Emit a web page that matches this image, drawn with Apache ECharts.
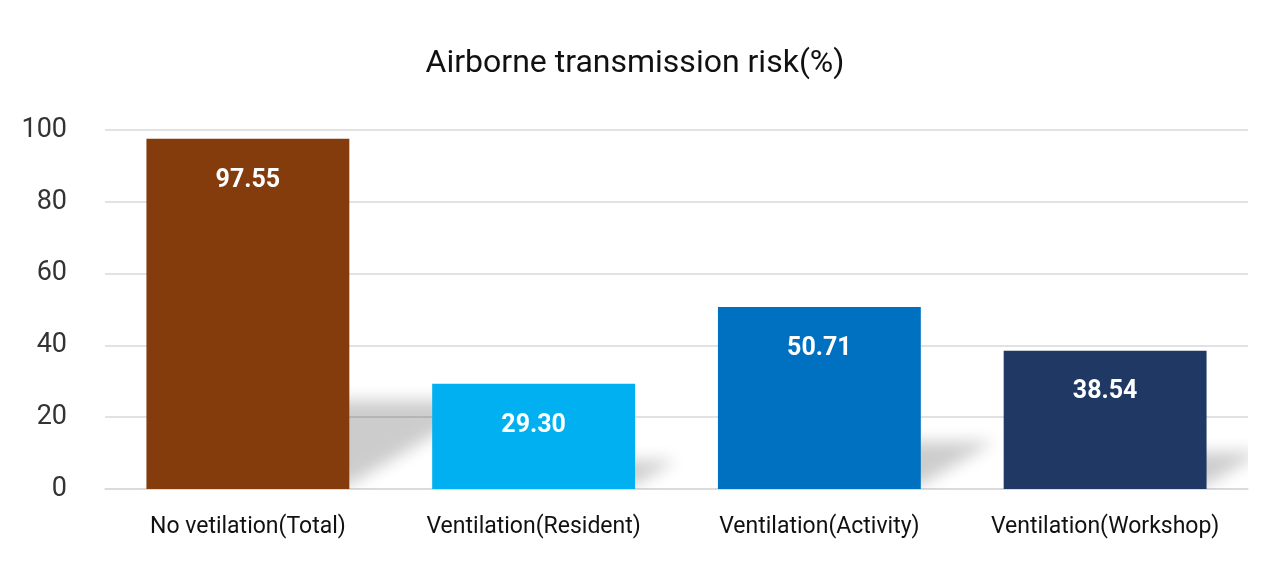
<!DOCTYPE html>
<html>
<head>
<meta charset="utf-8">
<script src="https://cdn.jsdelivr.net/npm/echarts@6/dist/echarts.min.js"></script>
<style>html,body{margin:0;padding:0;background:#fff;}#main{width:1270px;height:567px;}</style>
</head>
<body>
<div id="main"></div>
<script>
const categories = ['No vetilation(Total)', 'Ventilation(Resident)', 'Ventilation(Activity)', 'Ventilation(Workshop)'];
const riskValues = [97.55, 29.30, 50.71, 38.54];
const barColors = ['#843C0C', '#00B0F0', '#0070C0', '#1F3864'];
const yTicks = [0, 20, 40, 60, 80, 100];

const chart = echarts.init(document.getElementById('main'));
const BAR_RATIO = 0.71;
const SHIFT = 800;

chart.setOption({
  backgroundColor: '#fff',
  animation: false,
  title: {
    text: 'Airborne transmission risk(%)',
    left: 'center',
    top: 43,
    padding: [5, 0, 5, 10],
    textStyle: { fontFamily: 'Roboto', fontWeight: 'normal', fontSize: 32, color: '#111' }
  },
  grid: { left: 105, right: 22, top: 130, bottom: 78 },
  xAxis: {
    type: 'category',
    data: categories,
    axisLine: { show: true, lineStyle: { color: '#d9d9d9', width: 1.5 } },
    axisTick: { show: false },
    axisLabel: { interval: 0, fontFamily: 'Roboto', fontSize: 23, color: '#111', margin: 27 }
  },
  yAxis: {
    type: 'value',
    min: yTicks[0],
    max: yTicks[yTicks.length - 1],
    interval: 20,
    axisLine: { show: false },
    axisTick: { show: false },
    splitLine: { lineStyle: { color: '#d9d9d9', width: 1.5 } },
    axisLabel: { fontFamily: 'Roboto', fontSize: 27, color: '#333', margin: 38 }
  },
  series: [
    {
      type: 'custom',
      z: 1,
      clip: true,
      data: riskValues.map((v, i) => [i, v]),
      renderItem: function (params, api) {
        const idx = api.value(0);
        const base = api.coord([idx, 0]);
        const top = api.coord([idx, api.value(1)]);
        const bw = api.size([1, 0])[0] * BAR_RATIO;
        const x0 = base[0] - bw / 2 + 4;
        const x1 = base[0] + bw / 2 - 2;
        const H = base[1] - top[1];
        const h = H * 0.245;
        const dx = h * 1.7;
        const y0 = base[1] - 3 + SHIFT;
        return {
          type: 'polygon',
          shape: { points: [[x0, y0], [x1, y0], [x1 + dx, y0 - h], [x0 + dx, y0 - h]] },
          style: { fill: '#000', shadowBlur: 16, shadowOffsetY: -SHIFT, shadowColor: 'rgba(0,0,0,0.2)' }
        };
      }
    },
    {
      type: 'bar',
      z: 2,
      barWidth: (BAR_RATIO * 100) + '%',
      data: riskValues.map((v, i) => ({ value: v, itemStyle: { color: barColors[i] } })),
      label: {
        show: true,
        position: 'insideTop',
        distance: 29,
        formatter: p => p.value.toFixed(2),
        fontFamily: 'Roboto',
        fontWeight: 'bold',
        fontSize: 25,
        color: '#fff'
      }
    }
  ]
});
</script>
</body>
</html>
